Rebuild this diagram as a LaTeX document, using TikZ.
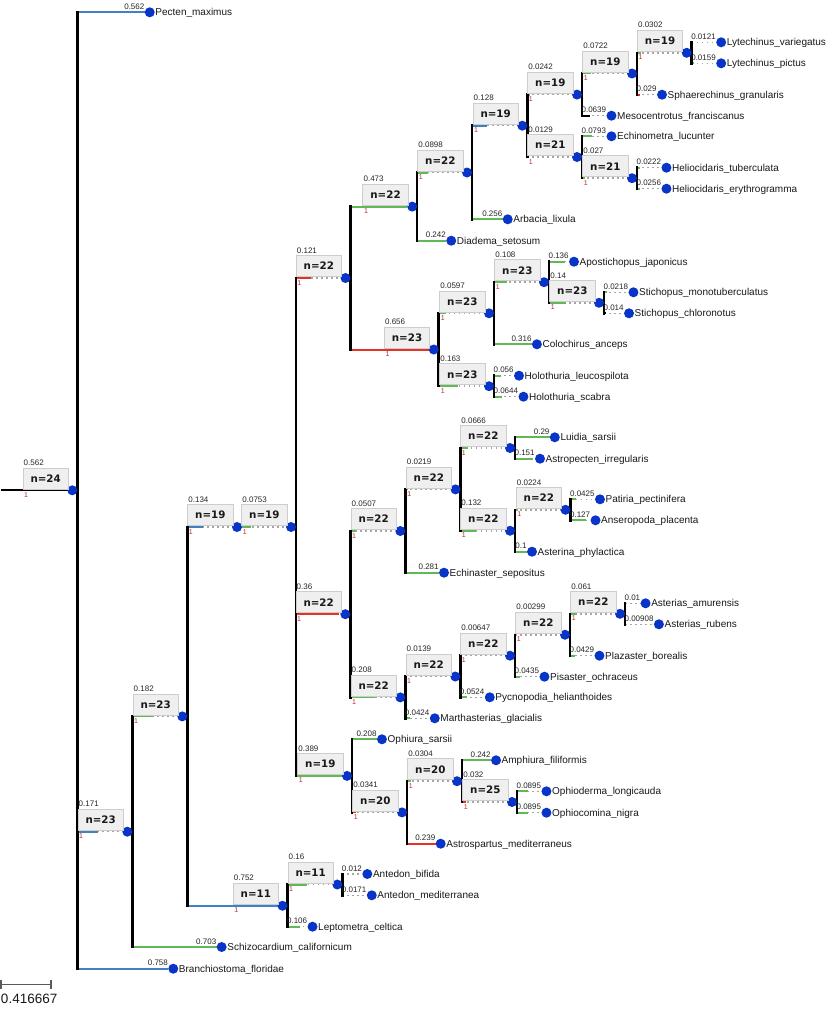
\documentclass[tikz,border=0pt]{standalone}
\usepackage{fontspec}
\setmainfont{Liberation Sans}
\newfontfamily\countfont{DejaVu Sans}
\usetikzlibrary{calc}
\pgfdeclarelayer{back}
\pgfdeclarelayer{bg}
\pgfsetlayers{back,bg,main}

\definecolor{brgreen}{RGB}{98,184,86}
\definecolor{brred}{RGB}{232,48,42}
\definecolor{brblue}{RGB}{66,128,196}
\definecolor{dotblue}{RGB}{8,52,200}
\definecolor{suppred}{RGB}{185,40,40}
\definecolor{boxfill}{RGB}{239,239,239}
\definecolor{boxline}{RGB}{205,205,205}
\definecolor{extgray}{RGB}{165,165,165}
\definecolor{scalegray}{RGB}{90,90,90}

% number of characters in a branch-length label
\newcount\chcount
\def\countch#1{\chcount=0 \countchA#1\relax}
\def\countchA#1{\ifx#1\relax\else\advance\chcount by 1 \expandafter\countchA\fi}

\tikzset{
  dot/.style={circle, fill=dotblue, minimum size=10pt, inner sep=0pt},
  nbox/.style={draw=boxline, fill=boxfill, line width=0.8pt, minimum width=45.5pt,
    minimum height=21pt, inner sep=0pt, anchor=south east,
    font=\fontsize{10.3}{12}\countfont\bfseries, text=black!90},
  brlab/.style={inner sep=0pt, font=\fontsize{8}{9.6}\selectfont, text=black!85},
  suplab/.style={inner sep=0pt, font=\fontsize{7}{8}\selectfont, text=suppred},
  leafname/.style={inner sep=0pt, font=\fontsize{10}{12}\selectfont, text=black!90},
  branch/.style={line width=2pt},
  ext/.style={draw=extgray, line width=1.5pt, dash pattern=on 1.5pt off 3.5pt},
  joint/.style={line width=2.5pt, line cap=rect, draw=black},
  scalebar/.style={draw=scalegray, line width=1.2pt},
}

% internal node: name, parent, dot x, y, branch length, colour, count
\newcommand\Inode[7]{%
  \node[dot] (#1) at (#3,#4) {};
  \coordinate (#1-v) at ($(#1)+(5,0)$);
  \node[nbox] (#1-box) at (#3-3.5,#4-1) {n=#7};
  \node[brlab, anchor=base west] (#1-bl) at ($(#1-box.north west)+(1,-2)$) {#5};
  \node[suplab, anchor=north west] (#1-sup) at ($(#1-box.south west)+(1.5,3)$) {1};
  \pgfmathsetmacro\blen{#5*120}%
  \begin{pgfonlayer}{bg}
    \draw[ext] (#2-v |- #1) -- (#1.west);
    \draw[branch, #6] (#2-v |- #1) -- ++(\blen,0);
  \end{pgfonlayer}%
}

% leaf: name, parent, y, branch length, colour, label
% the branch is as long as its length or its label, whichever is wider
\newcommand\Leaf[6]{%
  \countch{#4}%
  \path (#2-v); \pgfgetlastxy{\Lpx}{\Lpy}%
  \pgfmathsetmacro\blen{#4*120}%
  \pgfmathsetmacro\Ldx{\Lpx + max(\blen, 4.448*\chcount - 2.224) + 5}%
  \node[dot] (#1) at (\Ldx,#3) {};
  \node[brlab, anchor=base east] (#1-bl) at ($(#1.west)+(0,-3)$) {#4};
  \node[leafname, anchor=base west] (#1-name) at ($(#1.east)+(0.3,3.6)$) {#6};
  \begin{pgfonlayer}{bg}
    \draw[ext] (#2-v |- #1) -- (#1.west);
    \draw[branch, #5] (#2-v |- #1) -- ++(\blen,0);
  \end{pgfonlayer}%
}

% vertical join of a node's children
\newcommand\Joint[3]{%
  \begin{pgfonlayer}{bg}
    \draw[joint] (#1-v |- #2) -- (#1-v |- #3);
  \end{pgfonlayer}%
}

\begin{document}
\begin{tikzpicture}[x=1pt,y=-1pt]
\begin{pgfonlayer}{back}
  \fill[white] (0,0) rectangle (826,1030);
\end{pgfonlayer}
\useasboundingbox (0,0) rectangle (826,1030);

\coordinate (top-v) at (0.5,490.3);
\Inode{root}{top}{72.3}{490.3}{0.562}{black}{24}
\Leaf{pecten}{root}{12.3}{0.562}{brblue}{Pecten\_maximus}
\Inode{nA}{root}{127.3}{831.7}{0.171}{brblue}{23}
\Inode{nB}{nA}{182.3}{716.4}{0.182}{brgreen}{23}
\Inode{nC}{nB}{237}{527}{0.134}{brblue}{19}
\Inode{nD}{nC}{291}{527}{0.0753}{brgreen}{19}
% sea urchins and sea cucumbers
\Inode{nE}{nD}{345.5}{278}{0.121}{brred}{22}
\Inode{nF}{nE}{412.2}{206.6}{0.473}{brgreen}{22}
\Inode{nG}{nF}{467}{172.5}{0.0898}{brgreen}{22}
\Inode{nH}{nG}{522.3}{125.7}{0.128}{brblue}{19}
\Inode{nI}{nH}{577}{94.6}{0.0242}{brgreen}{19}
\Inode{nJ}{nI}{632}{73.5}{0.0722}{brgreen}{19}
\Inode{nK}{nJ}{686.7}{52.8}{0.0302}{brgreen}{19}
\Leaf{lytVar}{nK}{42.3}{0.0121}{brgreen}{Lytechinus\_variegatus}
\Leaf{lytPic}{nK}{63.3}{0.0159}{brgreen}{Lytechinus\_pictus}
\Leaf{sphGra}{nJ}{94.7}{0.029}{brred}{Sphaerechinus\_granularis}
\Leaf{mesFra}{nI}{115.7}{0.0639}{black}{Mesocentrotus\_franciscanus}
\Inode{nL}{nH}{577}{157}{0.0129}{brred}{21}
\Leaf{echLuc}{nL}{136.3}{0.0793}{brgreen}{Echinometra\_lucunter}
\Inode{nM}{nL}{632}{178.2}{0.027}{brgreen}{21}
\Leaf{helTub}{nM}{167.7}{0.0222}{brgreen}{Heliocidaris\_tuberculata}
\Leaf{helEry}{nM}{188.7}{0.0256}{brgreen}{Heliocidaris\_erythrogramma}
\Leaf{arbLix}{nG}{219.3}{0.256}{brgreen}{Arbacia\_lixula}
\Leaf{diaSet}{nF}{240.7}{0.242}{brgreen}{Diadema\_setosum}
\Inode{nN}{nE}{433.7}{349.5}{0.656}{brred}{23}
\Inode{nO}{nN}{489}{313.3}{0.0597}{brgreen}{23}
\Inode{nP}{nO}{544}{282.2}{0.108}{brgreen}{23}
\Leaf{apoJap}{nP}{261.7}{0.136}{brgreen}{Apostichopus\_japonicus}
\Inode{nQ}{nP}{599}{302.8}{0.14}{brgreen}{23}
\Leaf{stiMon}{nQ}{292.3}{0.0218}{brgreen}{Stichopus\_monotuberculatus}
\Leaf{stiChl}{nQ}{313.3}{0.014}{black}{Stichopus\_chloronotus}
\Leaf{colAnc}{nO}{344.3}{0.316}{brgreen}{Colochirus\_anceps}
\Inode{nR}{nN}{489}{386.2}{0.163}{brgreen}{23}
\Leaf{holLeu}{nR}{375.7}{0.056}{brgreen}{Holothuria\_leucospilota}
\Leaf{holSca}{nR}{396.7}{0.0644}{brgreen}{Holothuria\_scabra}
% sea stars
\Inode{nS}{nD}{345.3}{614.2}{0.36}{brred}{22}
\Inode{nT}{nS}{400.3}{531}{0.0507}{brgreen}{22}
\Inode{nU}{nT}{455.5}{489.4}{0.0219}{brgreen}{22}
\Inode{nV}{nU}{510}{448}{0.0666}{brgreen}{22}
\Leaf{luiSar}{nV}{437.3}{0.29}{brgreen}{Luidia\_sarsii}
\Leaf{astIrr}{nV}{458.7}{0.151}{brgreen}{Astropecten\_irregularis}
\Inode{nW}{nU}{510}{530.75}{0.132}{brgreen}{22}
\Inode{nX}{nW}{565.5}{509.8}{0.0224}{brgreen}{22}
\Leaf{patPec}{nX}{499.3}{0.0425}{brgreen}{Patiria\_pectinifera}
\Leaf{ansPla}{nX}{520.3}{0.127}{brgreen}{Anseropoda\_placenta}
\Leaf{astPhy}{nW}{551.7}{0.1}{brgreen}{Asterina\_phylactica}
\Leaf{echSep}{nT}{572.7}{0.281}{brgreen}{Echinaster\_sepositus}
\Inode{nY}{nS}{400.3}{697.4}{0.208}{brgreen}{22}
\Inode{nZ}{nY}{455.3}{676.5}{0.0139}{brgreen}{22}
\Inode{nAA}{nZ}{510}{655.7}{0.00647}{brgreen}{22}
\Inode{nAB}{nAA}{565}{634.75}{0.00299}{brgreen}{22}
\Inode{nAC}{nAB}{620}{613.8}{0.061}{brgreen}{22}
\Leaf{astAmu}{nAC}{603.3}{0.01}{brgreen}{Asterias\_amurensis}
\Leaf{astRub}{nAC}{624.3}{0.00908}{brgreen}{Asterias\_rubens}
\Leaf{plaBor}{nAB}{655.7}{0.0429}{brgreen}{Plazaster\_borealis}
\Leaf{pisOch}{nAA}{676.7}{0.0435}{brgreen}{Pisaster\_ochraceus}
\Leaf{pycHel}{nZ}{697.3}{0.0524}{brgreen}{Pycnopodia\_helianthoides}
\Leaf{marGla}{nY}{718.3}{0.0424}{brgreen}{Marthasterias\_glacialis}
% brittle stars
\Inode{nAD}{nD}{347}{775.9}{0.389}{brgreen}{19}
\Leaf{ophSar}{nAD}{739.3}{0.208}{brgreen}{Ophiura\_sarsii}
\Inode{nAE}{nAD}{402}{812.4}{0.0341}{brred}{20}
\Inode{nAF}{nAE}{457}{781.2}{0.0304}{brgreen}{20}
\Leaf{amphFil}{nAF}{760.3}{0.242}{brgreen}{Amphiura\_filiformis}
\Inode{nAG}{nAF}{512}{802}{0.032}{brred}{25}
\Leaf{ophLon}{nAG}{791.3}{0.0895}{brgreen}{Ophioderma\_longicauda}
\Leaf{ophNig}{nAG}{812.7}{0.0895}{brgreen}{Ophiocomina\_nigra}
\Leaf{astMed}{nAE}{843.7}{0.239}{brred}{Astrospartus\_mediterraneus}
% feather stars
\Inode{nAH}{nB}{282.5}{905.75}{0.752}{brblue}{11}
\Inode{nAI}{nAH}{337.3}{884.5}{0.16}{brgreen}{11}
\Leaf{antBif}{nAI}{874}{0.012}{brgreen}{Antedon\_bifida}
\Leaf{antMed}{nAI}{895.3}{0.0171}{brgreen}{Antedon\_mediterranea}
\Leaf{lepCel}{nAH}{926.7}{0.106}{brgreen}{Leptometra\_celtica}
% outgroups
\Leaf{schCal}{nA}{947}{0.703}{brgreen}{Schizocardium\_californicum}
\Leaf{braFlo}{root}{968.7}{0.758}{brblue}{Branchiostoma\_floridae}

\Joint{root}{pecten}{braFlo}
\Joint{nA}{nB}{schCal}
\Joint{nB}{nC}{nAH}
\Joint{nD}{nE}{nAD}
\Joint{nE}{nF}{nN}
\Joint{nF}{nG}{diaSet}
\Joint{nG}{nH}{arbLix}
\Joint{nH}{nI}{nL}
\Joint{nI}{nJ}{mesFra}
\Joint{nJ}{nK}{sphGra}
\Joint{nK}{lytVar}{lytPic}
\Joint{nL}{echLuc}{nM}
\Joint{nM}{helTub}{helEry}
\Joint{nN}{nO}{nR}
\Joint{nO}{nP}{colAnc}
\Joint{nP}{apoJap}{nQ}
\Joint{nQ}{stiMon}{stiChl}
\Joint{nR}{holLeu}{holSca}
\Joint{nS}{nT}{nY}
\Joint{nT}{nU}{echSep}
\Joint{nU}{nV}{nW}
\Joint{nV}{luiSar}{astIrr}
\Joint{nW}{nX}{astPhy}
\Joint{nX}{patPec}{ansPla}
\Joint{nY}{nZ}{marGla}
\Joint{nZ}{nAA}{pycHel}
\Joint{nAA}{nAB}{pisOch}
\Joint{nAB}{nAC}{plaBor}
\Joint{nAC}{astAmu}{astRub}
\Joint{nAD}{ophSar}{nAE}
\Joint{nAE}{nAF}{astMed}
\Joint{nAF}{amphFil}{nAG}
\Joint{nAG}{ophLon}{ophNig}
\Joint{nAH}{nAI}{lepCel}
\Joint{nAI}{antBif}{antMed}

% scale bar
\coordinate (sb-l) at (1,984.3);
\coordinate (sb-r) at (51,984.3);
\draw[scalebar] (sb-l) -- (sb-r);
\draw[scalebar] ($(sb-l)+(0,-4.5)$) -- ($(sb-l)+(0,4.5)$);
\draw[scalebar] ($(sb-r)+(0,-4.5)$) -- ($(sb-r)+(0,4.5)$);
\node[inner sep=0pt, anchor=base west, font=\fontsize{13.5}{16}\selectfont, text=black!90]
  (sb-text) at (0.8,1003.3) {0.416667};
\end{tikzpicture}
\end{document}
